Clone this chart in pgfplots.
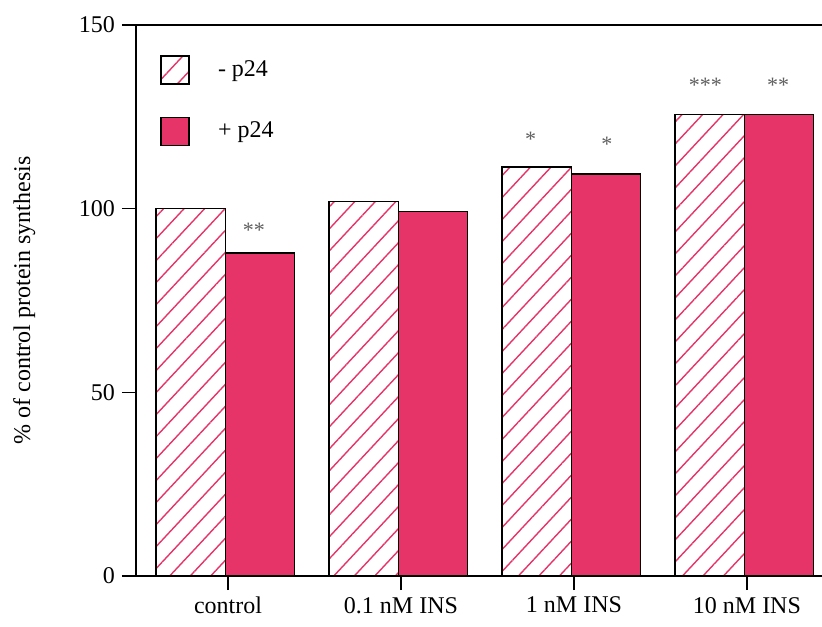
\documentclass[border=0pt]{standalone}
\usepackage{pgfplots}
\pgfplotsset{compat=1.18}
\usetikzlibrary{patterns.meta}
\usepackage{fontspec}
\setmainfont{Liberation Serif}
\definecolor{barpink}{RGB}{230,52,104}
\definecolor{stargray}{RGB}{95,95,95}
\pgfplotsset{mylegend/.style={legend image code/.code={\draw[##1] (0pt,-7pt) rectangle (14pt,7pt); \path (26pt,0pt);}}}
\begin{document}
\begin{tikzpicture}
\begin{axis}[
  scale only axis, width=343pt, height=275.5pt,
  xmin=-0.532, xmax=3.434, ymin=0, ymax=150,
  axis x line*=box, axis y line*=left,
  xtick={0,1,2,3},
  xticklabels={control, 0.1 nM INS, 1 nM INS, 10 nM INS},
  xtick pos=bottom,
  ytick={0,50,100,150},
  tick align=outside, major tick length=7pt,
  tick style={black, line width=0.8pt},
  axis line style={black, line width=0.9pt},
  /pgf/number format/assume math mode=true,
  tick label style={font=\fontsize{12}{14}\selectfont},
  label style={font=\fontsize{12}{14}\selectfont},
  ylabel={\% of control protein synthesis},
  ylabel shift=15pt,
  legend style={at={(rel axis cs:0.035,0.946)}, anchor=north west,
    draw=none, fill=none, inner sep=0pt, row sep=16pt,
    font=\fontsize{12}{14}\selectfont},
  legend cell align=left,
]
\addplot[ybar, bar width=0.4, bar shift=-0.215, draw=black, line width=0.8pt,
  pattern={Lines[angle=47,distance=7.5pt,line width=0.7pt]}, pattern color=barpink,
  mylegend]
  coordinates {(0,100) (1,102) (2,111.3) (3,125.6)};
\addlegendentry{- p24}
\addplot[ybar, bar width=0.4, bar shift=0.185, draw=black, fill=barpink, line width=0.8pt,
  mylegend]
  coordinates {(0,88) (1,99.2) (2,109.4) (3,125.6)};
\addlegendentry{+ p24}
\node[text=stargray, font=\fontsize{11}{13}\selectfont] at (axis cs:0.15,94) {**};
\node[text=stargray, font=\fontsize{11}{13}\selectfont] at (axis cs:1.75,118.8) {*};
\node[text=stargray, font=\fontsize{11}{13}\selectfont] at (axis cs:2.19,117.5) {*};
\node[text=stargray, font=\fontsize{11}{13}\selectfont] at (axis cs:2.76,133.5) {***};
\node[text=stargray, font=\fontsize{11}{13}\selectfont] at (axis cs:3.18,133.5) {**};
\end{axis}
\pgfresetboundingbox
\useasboundingbox (-68pt,-25pt) rectangle (343pt,288pt);
\end{tikzpicture}
\end{document}
